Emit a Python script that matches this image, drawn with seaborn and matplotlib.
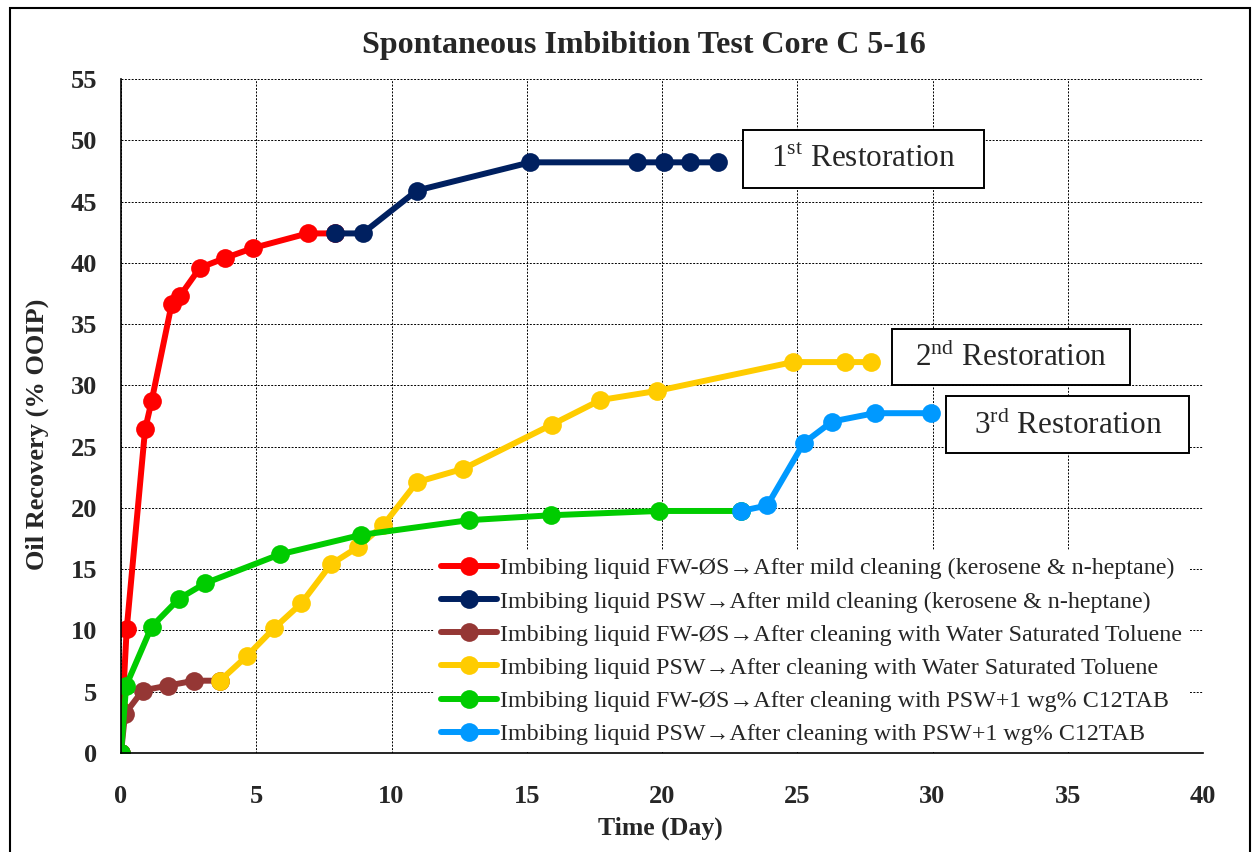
import numpy as np
import pandas as pd
import seaborn as sns
import matplotlib
matplotlib.use('Agg')
import matplotlib.pyplot as plt
from matplotlib.patches import Rectangle

# ---- data (time in days, recovery in % OOIP)
red_t = [0, 0.05, 0.21, 0.89, 1.13, 1.87, 2.18, 2.92, 3.86, 4.87, 6.9, 7.92]
red_y = [0, 3.4, 10.1, 26.4, 28.7, 36.6, 37.3, 39.6, 40.4, 41.2, 42.4, 42.4]

navy_t = [7.92, 8.93, 10.94, 15.13, 19.08, 20.06, 21.05, 22.06]
navy_y = [42.4, 42.4, 45.9, 48.2, 48.2, 48.2, 48.2, 48.2]

brown_t = [0, 0.15, 0.8, 1.73, 2.71, 3.66]
brown_y = [0, 3.2, 5.1, 5.5, 5.9, 5.9]

yellow_t = [3.66, 4.65, 5.67, 6.66, 7.76, 8.76, 9.7, 10.94, 12.66, 15.93, 17.72, 19.82, 24.84, 26.76, 27.74]
yellow_y = [5.9, 7.9, 10.2, 12.2, 15.4, 16.8, 18.6, 22.1, 23.2, 26.8, 28.8, 29.55, 31.9, 31.9, 31.9]

green_t = [0, 0.19, 1.13, 2.15, 3.11, 5.86, 8.88, 12.86, 15.9, 19.88, 22.93]
green_y = [0, 5.5, 10.3, 12.6, 13.85, 16.2, 17.8, 19.0, 19.4, 19.75, 19.75]

blue_t = [22.93, 23.89, 25.24, 26.29, 27.86, 29.93]
blue_y = [19.75, 20.2, 25.3, 27.05, 27.73, 27.73]

labels = ['Imbibing liquid FW-ØS→After mild cleaning (kerosene & n-heptane)',
          'Imbibing liquid PSW→After mild cleaning (kerosene & n-heptane)',
          'Imbibing liquid FW-ØS→After cleaning with Water Saturated Toluene',
          'Imbibing liquid PSW→After cleaning with Water Saturated Toluene',
          'Imbibing liquid FW-ØS→After cleaning with PSW+1 wg% C12TAB',
          'Imbibing liquid PSW→After cleaning with PSW+1 wg% C12TAB']
colors = ['#FF0000', '#002060', '#953735', '#FFCC00', '#00CC00', '#0099FF']

series = [(red_t, red_y), (navy_t, navy_y), (brown_t, brown_y),
          (yellow_t, yellow_y), (green_t, green_y), (blue_t, blue_y)]

# restoration notes: text, box (x0, x1, y0, y1) in data units
notes = [('1$^{\\mathrm{st}}$ Restoration', (23.0, 31.9, 46.1, 50.8)),
         ('2$^{\\mathrm{nd}}$ Restoration', (28.5, 37.3, 30.0, 34.6)),
         ('3$^{\\mathrm{rd}}$ Restoration', (30.5, 39.5, 24.5, 29.1))]

sns.set_style('white')
plt.rcParams['font.family'] = ['Liberation Serif', 'DejaVu Serif']
plt.rcParams['mathtext.fontset'] = 'custom'
plt.rcParams['mathtext.rm'] = 'Liberation Serif'

fig = plt.figure(figsize=(12.55, 8.52), dpi=100)
ax = fig.add_axes([121/1255, 1 - 753/852, (1203-121)/1255, (753-79)/852])

for (tt, yy), lab, col in zip(series, labels, colors):
    df = pd.DataFrame({'t': tt, 'y': yy})
    sns.lineplot(x='t', y='y', data=df, ax=ax, color=col, lw=4.3,
                 marker='o', markersize=13.5, markeredgewidth=0,
                 sort=False, estimator=None, label=lab)

ax.set_xlim(0, 40)
ax.set_ylim(0, 55)
ax.set_xticks(np.arange(0, 41, 5))
ax.set_yticks(np.arange(0, 56, 5))
ax.grid(True, color='black', ls=(0, (2, 1.5)), lw=0.7)
ax.set_axisbelow(True)
for s in ['top', 'right']:
    ax.spines[s].set_visible(False)
for s in ['left', 'bottom']:
    ax.spines[s].set_color('black')
    ax.spines[s].set_linewidth(1.2)
ax.tick_params(axis='both', direction='out', length=6, width=1, color='black',
               labelsize=19)
ax.tick_params(axis='x', pad=17)
ax.tick_params(axis='y', pad=11)
for lbl in ax.get_xticklabels() + ax.get_yticklabels():
    lbl.set_fontweight('bold')
ax.set_xlabel('Time (Day)', fontsize=18.5, fontweight='bold', va='center')
ax.set_ylabel('Oil Recovery (% OOIP)', fontsize=19, fontweight='bold', va='center')
ax.xaxis.set_label_coords((660-121)/1082, (753-828)/674)
ax.yaxis.set_label_coords((37-121)/1082, (753-434)/674)

leg = ax.legend(loc='lower right', bbox_to_anchor=(0.992, -0.006), frameon=True,
                fontsize=17.3, handlelength=2.3, handletextpad=0.15,
                labelspacing=0.47, borderaxespad=0.2, borderpad=0.3)
leg.get_frame().set_edgecolor('none')
leg.get_frame().set_facecolor('white')
leg.get_frame().set_alpha(1)

for txt, (x0, x1, y0, y1) in notes:
    ax.add_patch(Rectangle((x0, y0), x1 - x0, y1 - y0, fc='white', ec='black',
                           lw=1.4, zorder=5, clip_on=False))
    ax.text((x0 + x1) / 2, (y0 + y1) / 2, txt, fontsize=22.5, ha='center',
            va='center', zorder=6)

fig.text(644/1255, 1 - 45/852, 'Spontaneous Imbibition Test Core C 5-16',
         fontsize=23, fontweight='bold', ha='center', va='center')

fig.patches.append(Rectangle((10/1255, -0.05), 1240/1255, 1.05 - 8/852,
                             transform=fig.transFigure, fill=False,
                             ec='black', lw=1.5))

fig.savefig('out.png', dpi=100)
